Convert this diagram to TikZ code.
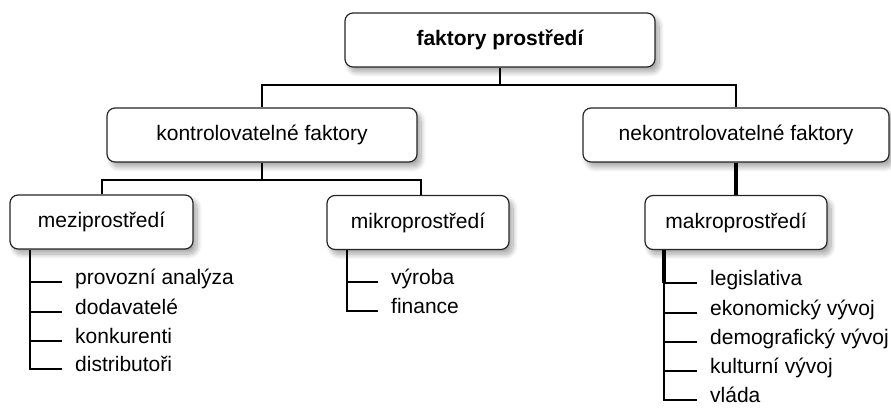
\documentclass[tikz,border=0pt]{standalone}
\usepackage{fontspec}
\setmainfont{Liberation Sans}
\usetikzlibrary{shadows.blur}
\begin{document}
\begin{tikzpicture}[x=1pt,y=-1pt,
  box/.style={draw=black!85, line width=1.2pt, rounded corners=8pt, fill=white,
    minimum height=54pt, inner sep=0pt, font=\fontsize{21}{25}\selectfont,
    blur shadow={shadow xshift=4pt, shadow yshift=-5pt, shadow blur radius=5pt, shadow blur steps=12, shadow opacity=35}},
  item/.style={anchor=mid west, inner xsep=13pt, inner ysep=0pt, font=\fontsize{21}{25}\selectfont},
  conn/.style={line width=1.2pt, draw=black},
  thick conn/.style={line width=4pt, draw=black}]
\useasboundingbox (0,0) rectangle (891,411);
% boxes
\node[box, minimum width=310pt, font=\fontsize{21}{25}\selectfont\bfseries] (top) at (500,40) {faktory prostředí};
\node[box, minimum width=310pt] (kon) at (262,135) {kontrolovatelné faktory};
\node[box, minimum width=306pt] (nek) at (736,135) {nekontrolovatelné faktory};
\node[box, minimum width=183pt] (mezi) at (101.5,222) {meziprostředí};
\node[box, minimum width=182pt] (mikro) at (418,222.5) {mikroprostředí};
\node[box, minimum width=182pt] (makro) at (736,222.5) {makroprostředí};
% items
\node[item] (a1) at (62,282) {provozní analýza};
\node[item] (a2) at (62,312) {dodavatelé};
\node[item] (a3) at (62,341) {konkurenti};
\node[item] (a4) at (62,369) {distributoři};
\node[item] (b1) at (378,282) {výroba};
\node[item] (b2) at (378,311) {finance};
\node[item] (c1) at (697,283) {legislativa};
\node[item] (c2) at (697,313) {ekonomický vývoj};
\node[item] (c3) at (697,342) {demografický vývoj};
\node[item] (c4) at (697,371) {kulturní vývoj};
\node[item] (c5) at (697,400) {vláda};
% bar coordinates
\coordinate (ax) at (30,0);
\coordinate (bx) at (347,0);
\coordinate (cx) at (664,0);
\coordinate (cbreak) at (664,283);
\coordinate (y1) at (0,85);
\coordinate (y2) at (0,180);
\coordinate (mzx) at (102,0);
\coordinate (mkx) at (421,0);
% hierarchy connectors
\draw[conn] (top.south) -- (top.south |- y1) -| (kon.north);
\draw[conn] (top.south |- y1) -| (nek.north);
\draw[conn] (kon.south) -- (kon.south |- y2);
\draw[conn] (mezi.north -| mzx) |- (y2 -| mkx) -- (mikro.north -| mkx);
\draw[thick conn] (nek.south) -- (makro.north);
% item connectors
\draw[conn] (mezi.south -| ax) |- (a4.mid west);
\foreach \n in {a1,a2,a3}{\draw[conn] (\n.mid west -| ax) -- (\n.mid west);}
\draw[conn] (mikro.south -| bx) |- (b2.mid west);
\draw[conn] (b1.mid west -| bx) -- (b1.mid west);
\draw[thick conn] (makro.south -| cx) -- (cbreak);
\draw[conn] (cbreak) |- (c5.mid west);
\foreach \n in {c1,c2,c3,c4}{\draw[conn] (\n.mid west -| cx) -- (\n.mid west);}
\end{tikzpicture}
\end{document}
